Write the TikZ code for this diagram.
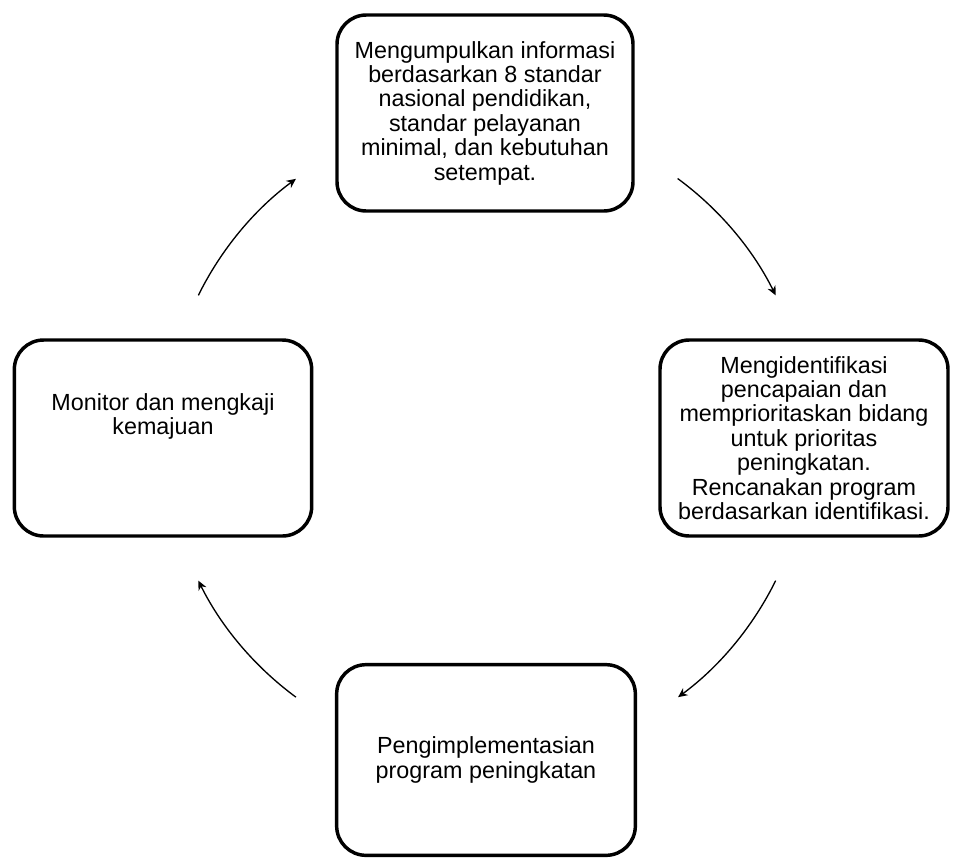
\documentclass[tikz,border=0pt]{standalone}
\usepackage{fontspec}
\setmainfont{Liberation Sans}
\usetikzlibrary{arrows.meta,positioning,calc}
\tikzstyle{phase}=[rectangle,rounded corners=22pt,draw,line width=2.6pt,fill=white,minimum height=147pt,inner sep=0pt,align=center,font=\fontsize{17.5}{18.3}\selectfont]
\tikzstyle{phasetext}=[align=center,inner sep=0pt,font=\fontsize{17.5}{18.3}\selectfont]
\tikzstyle{cycleedge}=[draw,line width=1pt,-{Stealth[length=7pt,width=6.5pt]}]

\begin{document}
\begin{tikzpicture}[x=0.75pt,y=-0.75pt]
    \useasboundingbox (0,0) rectangle (953,861);
    % The four boxes of the cycle
    \node[phase,minimum width=222pt] (gather) at (485,113) {Mengumpulkan informasi\\ berdasarkan 8 standar\\ nasional pendidikan,\\ standar pelayanan\\ minimal, dan kebutuhan\\ setempat.};
    \node[phase,minimum width=216pt] (identify) at (804,438) {Mengidentifikasi\\ pencapaian dan\\ memprioritaskan bidang\\ untuk prioritas\\ peningkatan.\\ Rencanakan program\\ berdasarkan identifikasi.};
    \node[phase,minimum width=224pt,minimum height=143pt] (implement) at (486,760) {Pengimplementasian\\ program peningkatan};
    \node[phase,minimum width=223pt] (monitor) at (163,438) {};
    \node[phasetext,below=41pt of monitor.north] (monitortext) {Monitor dan mengkaji\\ kemajuan};

    % Arrows on a circle round the middle
    \coordinate (hub) at (487,438);
    \foreach \name/\from/\to in {upleft/-153.7/-126.4, upright/-53.7/-26.3, downright/26.3/53.6, downleft/126.4/153.7}
    {
        \coordinate (\name) at ($(hub)+(\from:322)$);
        \draw[cycleedge] (\name) arc[start angle=\from, end angle=\to, radius=322];
    }
\end{tikzpicture}
\end{document}
